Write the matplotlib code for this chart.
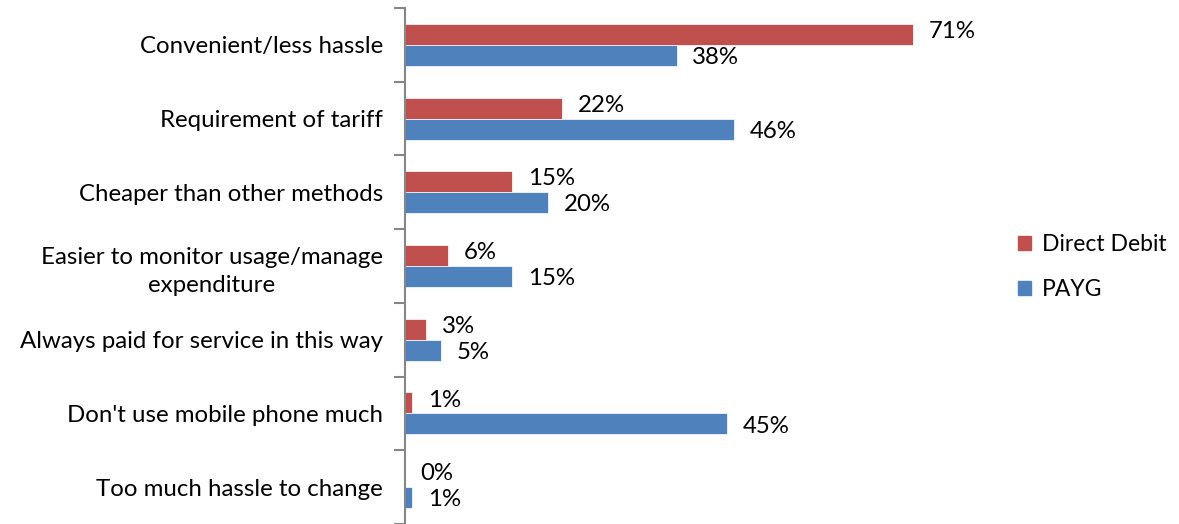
import numpy as np
import matplotlib.pyplot as plt
from matplotlib.patches import Patch

plt.rcParams['font.family'] = ['Lato', 'DejaVu Sans']

categories = ['Convenient/less hassle', 'Requirement of tariff', 'Cheaper than other methods',
              'Easier to monitor usage/manage\nexpenditure', 'Always paid for service in this way',
              "Don't use mobile phone much", 'Too much hassle to change']
direct_debit = [71, 22, 15, 6, 3, 1, 0]
payg = [38, 46, 20, 15, 5, 45, 1]

red = '#C0504D'
blue = '#4F81BD'
fs = 17.3

fig = plt.figure(figsize=(11.79, 5.24), dpi=100)
ax = fig.add_axes([405 / 1179, 0.0, (977 - 405) / 1179, 1 - 8 / 524])

y = np.arange(len(categories))
h = 0.284
ax.barh(y - h / 2, direct_debit, height=h, color=red, edgecolor='white', linewidth=0.5)
ax.barh(y + h / 2, payg, height=h, color=blue, edgecolor='white', linewidth=0.5)

# value labels, nudged apart a little like the original
for yi, v in zip(y, direct_debit):
    ax.text(v + 2.2, yi - h / 2 - 0.04, f'{v}%', va='center', ha='left', fontsize=fs)
for yi, v in zip(y, payg):
    ax.text(v + 2.2, yi + h / 2 + 0.03, f'{v}%', va='center', ha='left', fontsize=fs)

ax.set_xlim(0, 80)
ax.set_ylim(len(categories) - 0.5, -0.5)
ax.set_yticks(y)
ax.set_yticklabels(categories, fontsize=fs, linespacing=1.4)
ax.set_yticks(np.arange(len(categories) + 1) - 0.5, minor=True)
ax.tick_params(axis='y', which='major', length=0, pad=16)
ax.tick_params(axis='y', which='minor', length=8, color='#868686', width=1.5)
for lbl in ax.get_yticklabels():
    lbl.set_multialignment('center')
ax.set_xticks([])
for s in ['top', 'right', 'bottom']:
    ax.spines[s].set_visible(False)
ax.spines['left'].set_color('#868686')
ax.spines['left'].set_linewidth(1.5)

handles = [Patch(color=red, label='Direct Debit'), Patch(color=blue, label='PAYG')]
fig.legend(handles=handles, loc='center left', bbox_to_anchor=(997 / 1179, 1 - 267 / 524),
           frameon=False, fontsize=16.5, handlelength=0.6, handleheight=0.6,
           handletextpad=0.45, labelspacing=1.05)

fig.savefig('out.png', dpi=100)
